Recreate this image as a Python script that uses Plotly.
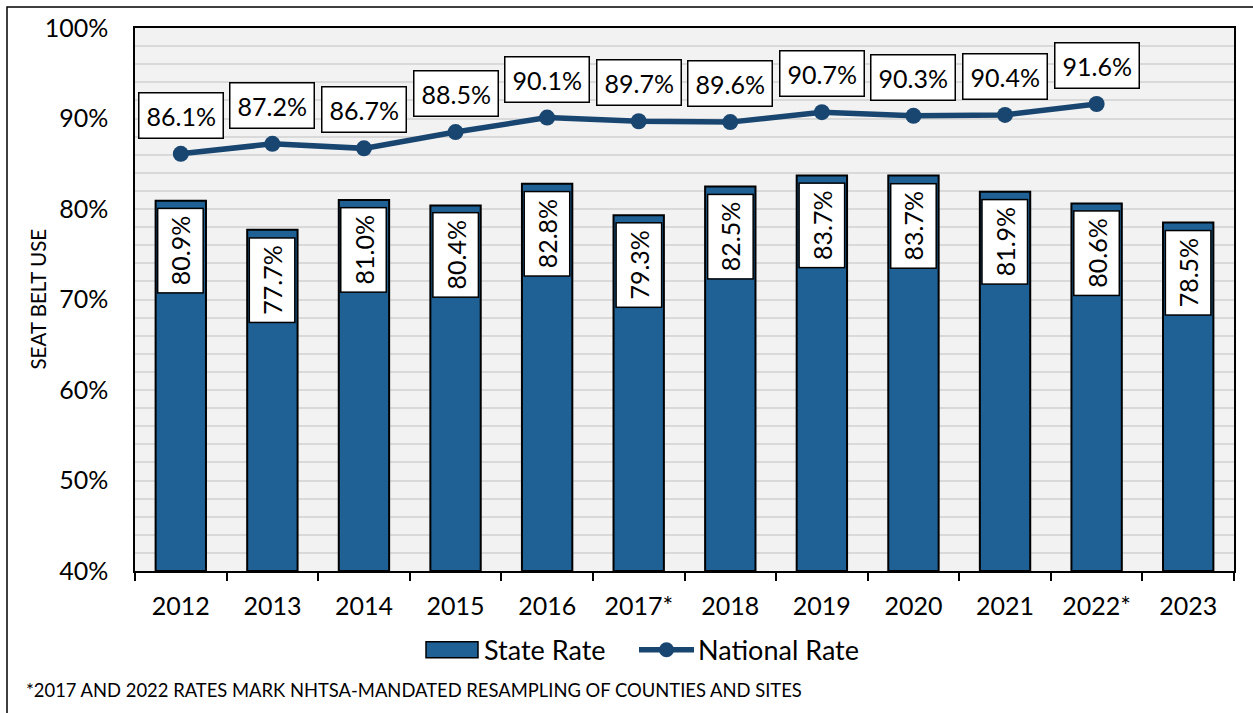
import plotly.graph_objects as go

years = ["2012", "2013", "2014", "2015", "2016", "2017*", "2018", "2019", "2020", "2021", "2022*", "2023"]
state_rate = [80.9, 77.7, 81.0, 80.4, 82.8, 79.3, 82.5, 83.7, 83.7, 81.9, 80.6, 78.5]
national_rate = [86.1, 87.2, 86.7, 88.5, 90.1, 89.7, 89.6, 90.7, 90.3, 90.4, 91.6, None]
y_ticks = [40, 50, 60, 70, 80, 90, 100]
y_tick_labels = ["40%", "50%", "60%", "70%", "80%", "90%", "100%"]
y_title = "SEAT BELT USE"
footnote = "*2017 AND 2022 RATES MARK NHTSA-MANDATED RESAMPLING OF COUNTIES AND SITES"

FONT = "Lato, Carlito, 'Open Sans', sans-serif"
BAR_COLOR = "#1F6095"
LINE_COLOR = "#194670"

# plot-area geometry in pixels (for paper-coordinate decorations)
PL, PR, PT, PB = 135, 1234, 26, 571
PW, PH = PR - PL, PB - PT


def px_x(x):
    return (x - PL) / PW


def px_y(y):
    return (PB - y) / PH


fig = go.Figure()
fig.add_trace(go.Bar(
    x=years, y=[v - 40 for v in state_rate], base=40, name="State Rate",
    marker=dict(color=BAR_COLOR, line=dict(color="black", width=2)),
    width=0.55, hoverinfo="skip", showlegend=False,
))
fig.add_trace(go.Scatter(
    x=years, y=national_rate, name="National Rate", mode="lines+markers",
    line=dict(color=LINE_COLOR, width=5.5),
    marker=dict(color=LINE_COLOR, size=16),
    hoverinfo="skip", showlegend=False,
))

annotations = []
for i, v in enumerate(state_rate):
    annotations.append(dict(
        x=i, y=v, xref="x", yref="y", text=f"{v:.1f}%", showarrow=False,
        textangle=-90, yanchor="top", xanchor="center", yshift=-7,
        bgcolor="white", bordercolor="black", borderwidth=1.5, borderpad=7,
        font=dict(family=FONT, size=25, color="black"),
    ))
for i, v in enumerate(national_rate):
    if v is None:
        continue
    annotations.append(dict(
        x=i, y=v, xref="x", yref="y", text=f"{v:.1f}%", showarrow=False,
        yanchor="bottom", xanchor="center", yshift=15,
        bgcolor="white", bordercolor="black", borderwidth=1.5, borderpad=7,
        font=dict(family=FONT, size=25, color="black"),
    ))
# y-axis title
annotations.append(dict(
    x=px_x(37), y=0.5, xref="paper", yref="paper", text=y_title,
    showarrow=False, textangle=-90, xanchor="center", yanchor="middle",
    font=dict(family=FONT, size=20.5, color="black"),
))
# footnote
annotations.append(dict(
    x=px_x(24), y=px_y(690), xref="paper", yref="paper",
    text=footnote, showarrow=False, xanchor="left", yanchor="middle",
    font=dict(family=FONT, size=18.4, color="black"),
))
# legend texts
annotations.append(dict(
    x=px_x(482), y=px_y(650), xref="paper", yref="paper", text="State Rate",
    showarrow=False, xanchor="left", yanchor="middle",
    font=dict(family=FONT, size=27, color="black"),
))
annotations.append(dict(
    x=px_x(696), y=px_y(650), xref="paper", yref="paper", text="National Rate",
    showarrow=False, xanchor="left", yanchor="middle",
    font=dict(family=FONT, size=27, color="black"),
))

shapes = [
    # outer frame
    dict(type="rect", xref="paper", yref="paper",
         x0=px_x(7), x1=1.05, y0=-0.4, y1=px_y(5),
         line=dict(color="black", width=1.5), fillcolor="rgba(0,0,0,0)", layer="below"),
    # legend swatch: bar
    dict(type="rect", xref="paper", yref="paper",
         x0=px_x(426), x1=px_x(478), y0=px_y(658), y1=px_y(642),
         line=dict(color="black", width=1.5), fillcolor=BAR_COLOR),
    # legend swatch: line
    dict(type="line", xref="paper", yref="paper",
         x0=px_x(639), x1=px_x(694), y0=px_y(650), y1=px_y(650),
         line=dict(color=LINE_COLOR, width=5.5)),
    dict(type="circle", xref="paper", yref="paper",
         x0=px_x(659), x1=px_x(674), y0=px_y(657.5), y1=px_y(642.5),
         line=dict(color=LINE_COLOR, width=0), fillcolor=LINE_COLOR),
]

fig.update_layout(
    width=1253, height=713,
    margin=dict(l=PL, r=1253 - PR, t=PT, b=713 - PB),
    paper_bgcolor="white", plot_bgcolor="#F2F2F2",
    font=dict(family=FONT, size=25, color="black"),
    showlegend=False,
    annotations=annotations,
    shapes=shapes,
)
fig.update_xaxes(
    type="category", range=[-0.5, len(years) - 0.5],
    showline=True, linecolor="black", linewidth=1.5, mirror=True,
    ticks="outside", tickson="boundaries", ticklen=8, tickcolor="black", tickwidth=1.5,
    tickfont=dict(family=FONT, size=25, color="black"), showgrid=False,
    tickangle=0, ticklabelstandoff=12,
)
fig.update_yaxes(
    range=[40, 100], tickvals=y_ticks, ticktext=y_tick_labels,
    showline=True, linecolor="black", linewidth=1.5, mirror=True,
    showgrid=True, gridcolor="#D9D9D9", gridwidth=1.5,
    minor=dict(dtick=2, tick0=40, showgrid=True, gridcolor="#D9D9D9", gridwidth=1.5),
    ticks="", tickfont=dict(family=FONT, size=25, color="black"),
    ticklabelstandoff=20,
    zeroline=False,
)

fig.write_html("out.html", config={"displayModeBar": False},
               post_script="document.body.style.margin='0';")
